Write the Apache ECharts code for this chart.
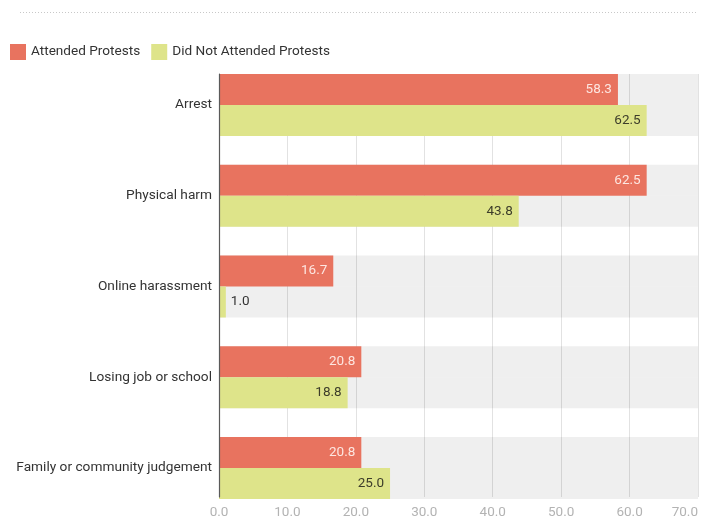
<!DOCTYPE html>
<html>
<head>
<meta charset="utf-8">
<script src="https://cdn.jsdelivr.net/npm/echarts@6/dist/echarts.min.js"></script>
<style>
  html, body { margin: 0; padding: 0; background: #fff; }
  #chart { width: 706px; height: 520px; }
</style>
</head>
<body>
<div id="chart"></div>
<script>
// Risk categories, top to bottom
const categories = ['Arrest', 'Physical harm', 'Online harassment', 'Losing job or school', 'Family or community judgement'];
// Share of respondents (%) per group
const attended = [58.3, 62.5, 16.7, 20.8, 20.8];
const notAttended = [62.5, 43.8, 1.0, 18.8, 25.0];
const seriesNames = ['Attended Protests', 'Did Not Attended Protests'];
// Value axis range and step
const xMin = 0, xMax = 70, xStep = 10;

const RED = '#e8735f';
const YELLOW = '#dee48a';
const FONT = 'Roboto, "Noto Sans", sans-serif';

const chart = echarts.init(document.getElementById('chart'), null, { renderer: 'canvas' });

function valueLabel(color) {
  return {
    show: true,
    position: 'insideRight',
    distance: 6,
    color: color,
    fontFamily: FONT,
    fontSize: 13.5,
    formatter: p => Number(p.value).toFixed(1)
  };
}

// Narrow bars get their label placed just outside the bar end
function withOutsideLabels(values, color) {
  return values.map(v => v < 5
    ? { value: v, label: { position: 'right', distance: 5, color: color } }
    : v);
}

chart.setOption({
  animation: false,
  textStyle: { fontFamily: FONT },
  legend: {
    left: 5,
    top: 39,
    itemWidth: 16,
    itemHeight: 16,
    itemGap: 11,
    icon: 'rect',
    textStyle: { color: '#333', fontSize: 13.6, fontFamily: FONT },
    data: seriesNames
  },
  grid: [
    // axes frame: grid lines, tick labels, left axis line
    { left: 219, right: 8, top: 74, bottom: 21 },
    // bars: bands extend half a gap beyond the frame so the first and last bars meet its edges
    { left: 219, right: 8, top: 59.6, bottom: 6.6 }
  ],
  xAxis: [
    {
      gridIndex: 0,
      type: 'value',
      min: xMin, max: xMax, interval: xStep,
      axisLine: { show: false },
      axisTick: { show: false },
      splitLine: { show: true, lineStyle: { color: '#e2e2e2', width: 1 } },
      axisLabel: {
        color: '#b3b3b3',
        fontSize: 13.5,
        fontFamily: FONT,
        margin: 9,
        alignMaxLabel: 'right',
        formatter: v => v.toFixed(1)
      }
    },
    {
      gridIndex: 1,
      type: 'value',
      min: xMin, max: xMax, interval: xStep,
      show: false
    }
  ],
  yAxis: [
    {
      gridIndex: 0,
      type: 'category',
      inverse: true,
      data: categories,
      z: 10,
      axisLine: { show: true, lineStyle: { color: '#5a5a5a', width: 1.2 } },
      axisTick: { show: false },
      axisLabel: { show: false },
      splitLine: { show: false }
    },
    {
      gridIndex: 1,
      type: 'category',
      inverse: true,
      data: categories,
      axisLine: { show: false },
      axisTick: { show: false },
      splitLine: { show: false },
      axisLabel: { color: '#333', fontSize: 13.7, fontFamily: FONT, margin: 7 }
    }
  ],
  series: [
    {
      name: seriesNames[0],
      type: 'bar',
      xAxisIndex: 1,
      yAxisIndex: 1,
      data: withOutsideLabels(attended, '#333'),
      barWidth: 31,
      barGap: '0%',
      itemStyle: { color: RED },
      showBackground: true,
      backgroundStyle: { color: 'rgba(0,0,0,0.062)' },
      label: valueLabel('#fde6e1')
    },
    {
      name: seriesNames[1],
      type: 'bar',
      xAxisIndex: 1,
      yAxisIndex: 1,
      data: withOutsideLabels(notAttended, '#333'),
      barWidth: 31,
      barGap: '0%',
      itemStyle: { color: YELLOW },
      showBackground: true,
      backgroundStyle: { color: 'rgba(0,0,0,0.062)' },
      label: valueLabel('#3d3d2a')
    }
  ],
  graphic: [
    {
      // dotted rule along the top of the figure
      type: 'line',
      shape: { x1: 20, y1: 12.5, x2: 698, y2: 12.5 },
      style: { stroke: '#c8c8c8', lineWidth: 1, lineDash: [1, 2] }
    }
  ]
});
</script>
</body>
</html>
